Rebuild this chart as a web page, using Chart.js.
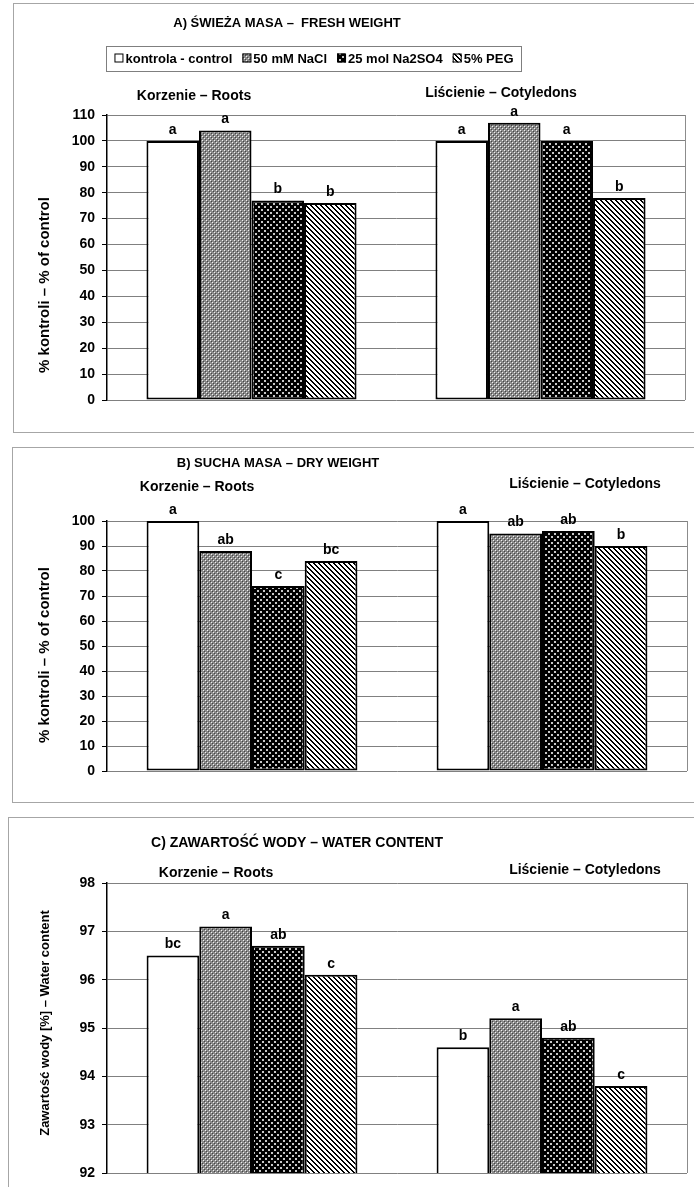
<!DOCTYPE html>
<html>
<head>
<meta charset="utf-8">
<script src="https://cdn.jsdelivr.net/npm/chart.js@4.4.0/dist/chart.umd.min.js"></script>
<style>
body { margin: 0; background: #fff; width: 694px; height: 1187px; overflow: hidden; position: relative; }
.panel { position: absolute; border: 1px solid #a6a6a6; background: #fff; }
.panel canvas { position: absolute; left: 0; top: 0; }
</style>
</head>
<body>
<div class="panel" style="left:13px;top:3px;width:700px;height:428px"><canvas id="fresh" width="690" height="428"></canvas></div>
<div class="panel" style="left:12px;top:447px;width:700px;height:354px"><canvas id="dry" width="690" height="354"></canvas></div>
<div class="panel" style="left:8px;top:817px;width:700px;height:400px"><canvas id="water" width="690" height="380"></canvas></div>
<script>
// dane
const categories = ['Korzenie – Roots', 'Liścienie – Cotyledons'];
const seriesNames = ['kontrola - control', '50 mM NaCl', '25 mol Na2SO4', '5% PEG'];

// A) świeża masa: [korzenie, liścienie] dla każdej serii
const freshWeight = [[100, 100], [104, 107], [77, 100], [76, 78]];
const freshLetters = [['a', 'a'], ['a', 'a'], ['b', 'a'], ['b', 'b']];
const freshTicks = [0, 10, 20, 30, 40, 50, 60, 70, 80, 90, 100, 110];

// B) sucha masa
const dryWeight = [[100, 100], [88, 95], [74, 96], [84, 90]];
const dryLetters = [['a', 'a'], ['ab', 'ab'], ['c', 'ab'], ['bc', 'b']];
const dryTicks = [0, 10, 20, 30, 40, 50, 60, 70, 80, 90, 100];

// C) zawartość wody
const waterContent = [[96.5, 94.6], [97.1, 95.2], [96.7, 94.8], [96.1, 93.8]];
const waterLetters = [['bc', 'b'], ['a', 'a'], ['ab', 'ab'], ['c', 'c']];
const waterTicks = [92, 93, 94, 95, 96, 97, 98];

const FONT = '"Liberation Sans", Arial, sans-serif';

// wzory wypełnienia słupków
function makePattern(kind) {
    if (kind === 'white') return '#ffffff';
    const c = document.createElement('canvas');
    const ctx = c.getContext('2d');
    if (kind === 'grey') {
        c.width = 4; c.height = 4;
        ctx.fillStyle = '#8a8a8a';
        ctx.fillRect(0, 0, 4, 4);
        ctx.fillStyle = '#f0f0f0';
        ctx.fillRect(0, 0, 1, 1);
        ctx.fillRect(2, 2, 1, 1);
        ctx.fillStyle = '#444';
        ctx.fillRect(1, 1, 1, 1);
        ctx.fillRect(3, 3, 1, 1);
    } else if (kind === 'dots') {
        c.width = 6; c.height = 6;
        ctx.fillStyle = '#000';
        ctx.fillRect(0, 0, 6, 6);
        ctx.fillStyle = '#c8c8c8';
        ctx.fillRect(1, 1, 2, 2);
        ctx.fillRect(4, 4, 2, 2);
    } else if (kind === 'stripes') {
        c.width = 5; c.height = 5;
        ctx.fillStyle = '#fff';
        ctx.fillRect(0, 0, 5, 5);
        ctx.fillStyle = '#000';
        for (let x = 0; x < 5; x++) {
            for (let y = 0; y < 5; y++) {
                if ((x - y + 5) % 5 < 2) ctx.fillRect(x, y, 1, 1);
            }
        }
    }
    return ctx.createPattern(c, 'repeat');
}

const fills = [makePattern('white'), makePattern('grey'), makePattern('dots'), makePattern('stripes')];

// napisy, legenda, litery nad słupkami
function decorPlugin(cfg) {
    return {
        id: 'decor',
        beforeDatasetsDraw(chart) {
            const { ctx, chartArea } = chart;
            ctx.save();
            ctx.strokeStyle = '#8c8c8c';
            ctx.lineWidth = 1;
            ctx.beginPath();
            ctx.moveTo(chartArea.right + 0.5, chartArea.top);
            ctx.lineTo(chartArea.right + 0.5, chartArea.bottom);
            ctx.stroke();
            ctx.restore();
        },
        afterDatasetsDraw(chart) {
            const { ctx } = chart;
            ctx.save();
            ctx.fillStyle = '#000';
            ctx.textAlign = 'center';

            // tytuł
            ctx.font = `bold ${cfg.titleSize}px ${FONT}`;
            ctx.textBaseline = 'middle';
            ctx.fillText(cfg.title, cfg.titlePos[0], cfg.titlePos[1]);

            // nazwy grup
            ctx.font = `bold ${cfg.catSize}px ${FONT}`;
            categories.forEach((c, i) => ctx.fillText(c, cfg.catPos[i][0], cfg.catPos[i][1]));

            // oś Y
            ctx.save();
            ctx.translate(cfg.yTitlePos[0], cfg.yTitlePos[1]);
            ctx.rotate(-Math.PI / 2);
            ctx.font = `bold ${cfg.yTitleSize}px ${FONT}`;
            ctx.fillText(cfg.yTitle, 0, 0);
            ctx.restore();

            // litery istotności
            ctx.font = `bold 14px ${FONT}`;
            ctx.textBaseline = 'bottom';
            chart.data.datasets.forEach((ds, i) => {
                chart.getDatasetMeta(i).data.forEach((bar, j) => {
                    ctx.fillText(cfg.letters[i][j], bar.x, bar.y - 4);
                });
            });

            // legenda w ramce
            if (cfg.legend) {
                ctx.font = `bold 13px ${FONT}`;
                ctx.textAlign = 'left';
                ctx.textBaseline = 'middle';
                const sw = 9, gapIn = 2, gapOut = 10;
                const widths = seriesNames.map(n => ctx.measureText(n).width);
                const total = widths.reduce((a, b) => a + b, 0) + seriesNames.length * (sw + gapIn) + (seriesNames.length - 1) * gapOut;
                const [cx, cy] = cfg.legend;
                const boxW = total + 16, boxH = 25;
                ctx.strokeStyle = '#7f7f7f';
                ctx.lineWidth = 1;
                ctx.strokeRect(Math.round(cx - boxW / 2) + 0.5, Math.round(cy - boxH / 2) + 0.5, Math.round(boxW), boxH);
                let x = cx - total / 2;
                seriesNames.forEach((n, i) => {
                    ctx.fillStyle = fills[i];
                    ctx.fillRect(x, cy - sw / 2, sw, sw);
                    ctx.strokeStyle = '#000';
                    ctx.strokeRect(x + 0.5, cy - sw / 2 + 0.5, sw - 1, sw - 1);
                    ctx.fillStyle = '#000';
                    ctx.fillText(n, x + sw + gapIn, cy + 1);
                    x += sw + gapIn + widths[i] + gapOut;
                });
            }
            ctx.restore();
        }
    };
}

function makeChart(id, values, ticks, area, cfg) {
    const ctx = document.getElementById(id).getContext('2d');
    return new Chart(ctx, {
        type: 'bar',
        data: {
            labels: categories,
            datasets: seriesNames.map((name, i) => ({
                label: name,
                data: values[i],
                backgroundColor: fills[i],
                borderColor: '#000',
                borderWidth: 2,
                borderSkipped: false,
                categoryPercentage: 0.727,
                barPercentage: 1
            }))
        },
        options: {
            responsive: false,
            animation: false,
            events: [],
            layout: {
                padding: { top: area.top, right: area.right, bottom: area.bottom, left: 0 }
            },
            plugins: {
                legend: { display: false },
                title: { display: false },
                tooltip: { enabled: false }
            },
            scales: {
                x: { display: false },
                y: {
                    min: ticks[0],
                    max: ticks[ticks.length - 1],
                    afterBuildTicks: s => { s.ticks = ticks.map(v => ({ value: v })); },
                    afterFit: s => { s.width = area.left; },
                    border: { display: true, color: '#000', width: 1.5 },
                    grid: { color: '#808080', lineWidth: 1, drawTicks: true, tickLength: 5, tickColor: '#000' },
                    ticks: { color: '#000', padding: 7, font: { family: FONT, size: 14, weight: 'bold' } }
                }
            }
        },
        plugins: [decorPlugin(cfg)]
    });
}

makeChart('fresh', freshWeight, freshTicks,
    { left: 93, top: 111, right: 19, bottom: 32 },
    {
        title: 'A) ŚWIEŻA MASA –  FRESH WEIGHT', titleSize: 13, titlePos: [273, 19],
        catSize: 14, catPos: [[180, 92], [487, 89]],
        yTitle: '% kontroli – % of control', yTitleSize: 15, yTitlePos: [31, 281],
        letters: freshLetters, legend: [300, 54]
    });

makeChart('dry', dryWeight, dryTicks,
    { left: 94, top: 73, right: 16, bottom: 31 },
    {
        title: 'B) SUCHA MASA – DRY WEIGHT', titleSize: 13, titlePos: [265, 15],
        catSize: 14, catPos: [[184, 39], [572, 36]],
        yTitle: '% kontroli – % of control', yTitleSize: 15, yTitlePos: [32, 207],
        letters: dryLetters, legend: null
    });

makeChart('water', waterContent, waterTicks,
    { left: 98, top: 65, right: 12, bottom: 25 },
    {
        title: 'C) ZAWARTOŚĆ WODY – WATER CONTENT', titleSize: 14, titlePos: [288, 25],
        catSize: 14, catPos: [[207, 55], [576, 52]],
        yTitle: 'Zawartość wody [%] – Water content', yTitleSize: 13, yTitlePos: [36, 205],
        letters: waterLetters, legend: null
    });
</script>
</body>
</html>
